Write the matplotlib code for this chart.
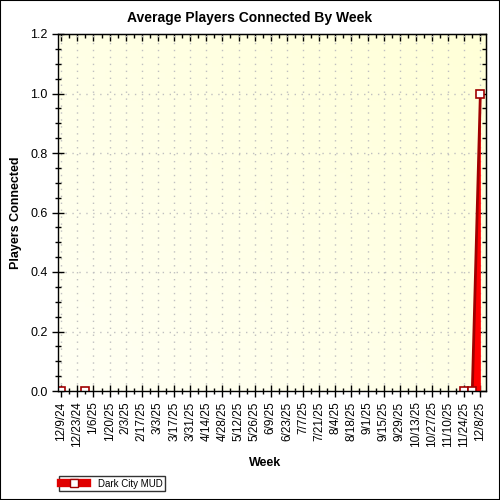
import matplotlib
matplotlib.use("Agg")
import matplotlib.pyplot as plt
from matplotlib.lines import Line2D
from matplotlib.patches import Rectangle
from matplotlib.ticker import MultipleLocator, FormatStrFormatter, NullFormatter
import numpy as np

plt.rcParams["font.family"] = ["Liberation Sans", "DejaVu Sans"]

# every second week gets a label, 53 weeks in total
week_labels = [
    "12/9/24", "12/23/24", "1/6/25", "1/20/25", "2/3/25", "2/17/25",
    "3/3/25", "3/17/25", "3/31/25", "4/14/25", "4/28/25", "5/12/25",
    "5/26/25", "6/9/25", "6/23/25", "7/7/25", "7/21/25", "8/4/25",
    "8/18/25", "9/1/25", "9/15/25", "9/29/25", "10/13/25", "10/27/25",
    "11/10/25", "11/24/25", "12/8/25",
]
n_weeks = 53

# weeks (index from 12/9/24) that have data
point_weeks = [0, 3, 50, 51, 52]
players = [0.0, 0.0, 0.0, 0.0, 1.0]
series_name = "Dark City MUD"

fig = plt.figure(figsize=(5, 5), dpi=100)
ax = fig.add_axes([58 / 500, 1 - 391 / 500, 428 / 500, 357 / 500])

# pale yellow gradient background
gx, gy = np.meshgrid(np.linspace(0, 1, 64), np.linspace(0, 1, 64))
grad = (gx + gy) / 2
cmap = matplotlib.colors.LinearSegmentedColormap.from_list(
    "bg", ["#fffff4", "#ffffd8"])
ax.imshow(grad, extent=[-0.4, 52.7, 0, 1.2], origin="lower", cmap=cmap,
          aspect="auto", zorder=0)

# the line and area only join weeks that follow each other
runs = [[0]]
for i in range(1, len(point_weeks)):
    if point_weeks[i] - point_weeks[i - 1] == 1:
        runs[-1].append(i)
    else:
        runs.append([i])
for run in runs:
    if len(run) < 2:
        continue
    xs = [point_weeks[i] for i in run]
    ys = [players[i] for i in run]
    ax.fill_between(xs, ys, color="#ff0000", zorder=2, lw=0)
    ax.plot(xs, ys, color="#a00000", lw=2, zorder=3)

ax.plot(point_weeks, players, ls="none", marker="s", ms=6, mfc="white",
        mec="#a00000", mew=1.2, zorder=4)

ax.set_xlim(-0.4, 52.7)
ax.set_ylim(0, 1.2)

ax.set_xticks(range(0, n_weeks, 2))
ax.set_xticklabels(week_labels, rotation=90, fontsize=8.5)
ax.xaxis.set_minor_locator(MultipleLocator(1))
ax.yaxis.set_major_locator(MultipleLocator(0.2))
ax.yaxis.set_minor_locator(MultipleLocator(0.05))
ax.yaxis.set_major_formatter(FormatStrFormatter("%.1f"))
ax.tick_params(axis="y", labelsize=9)

ax.tick_params(axis="x", which="major", direction="inout", length=8, width=1)
ax.tick_params(axis="x", which="minor", direction="inout", length=5, width=1)
ax.tick_params(axis="y", which="major", direction="inout", length=8, width=1)
ax.tick_params(axis="y", which="minor", direction="inout", length=5, width=1)

# inward ticks on the top and right edges
top = ax.secondary_xaxis("top")
top.set_xticks(range(0, n_weeks, 2))
top.xaxis.set_minor_locator(MultipleLocator(1))
top.xaxis.set_major_formatter(NullFormatter())
top.tick_params(which="major", direction="in", length=5, width=1)
top.tick_params(which="minor", direction="in", length=3, width=1)
right = ax.secondary_yaxis("right")
right.yaxis.set_major_locator(MultipleLocator(0.2))
right.yaxis.set_minor_locator(MultipleLocator(0.05))
right.yaxis.set_major_formatter(NullFormatter())
right.tick_params(which="major", direction="in", length=5, width=1)
right.tick_params(which="minor", direction="in", length=3, width=1)

ax.grid(True, which="major", color="#c0c0c0", ls=(0, (1, 4)), lw=1)
for s in ax.spines.values():
    s.set_linewidth(1)
    s.set_zorder(5)

fig.text(0.5, 1 - 18 / 500, "Average Players Connected By Week",
         fontsize=10, fontweight="bold", ha="center", va="center")
ax.set_xlabel("Week", fontsize=9, fontweight="bold")
ax.xaxis.set_label_coords((265 - 58) / 428, -(457 - 391) / 357)
ax.set_ylabel("Players Connected", fontsize=9, fontweight="bold")
ax.yaxis.set_label_coords(-(58 - 22) / 428, 0.5)

handle = Line2D([], [], color="#e00000", lw=6, marker="s", ms=6,
                mfc="white", mec="#a00000")
leg = fig.legend([handle], [series_name], loc="lower left",
                 bbox_to_anchor=(54 / 500, 4 / 500), fontsize=7,
                 frameon=True, fancybox=False, edgecolor="black",
                 borderpad=0.25, handlelength=2.6, handletextpad=1.2)
leg.get_frame().set_linewidth(1)

fig.patches.append(Rectangle((0, 0), 1, 1, transform=fig.transFigure,
                             fill=False, edgecolor="black", lw=1.5))

fig.savefig("out.png", dpi=100)
